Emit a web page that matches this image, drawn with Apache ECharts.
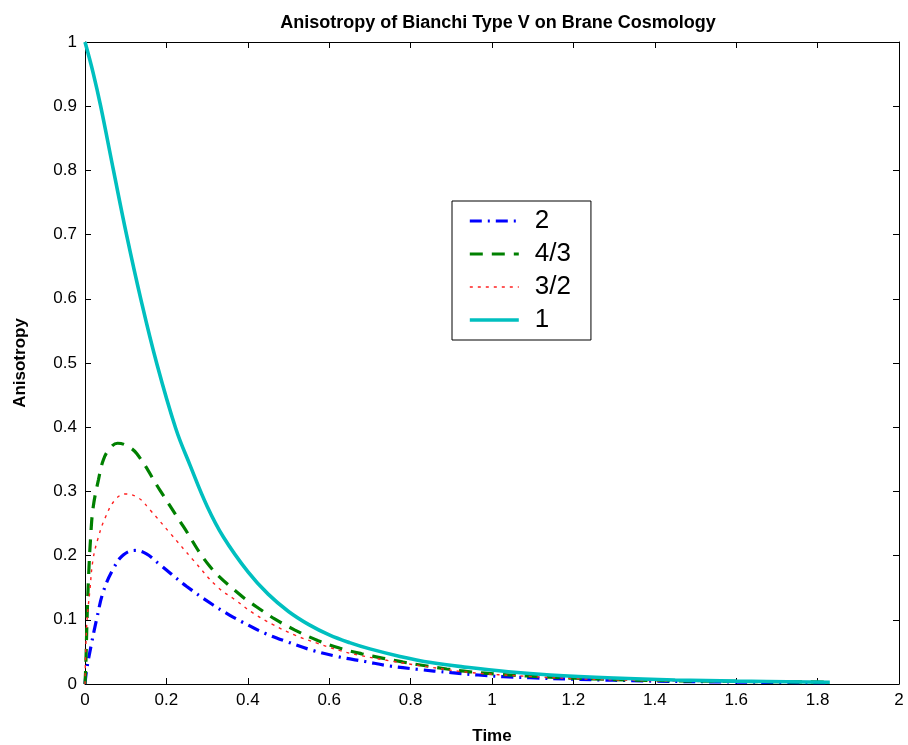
<!DOCTYPE html>
<html>
<head>
<meta charset="utf-8">
<script src="https://cdn.jsdelivr.net/npm/echarts@6/dist/echarts.min.js"></script>
<style>html,body{margin:0;padding:0;background:#fff}#c{width:908px;height:745px}</style>
</head>
<body>
<div id="c"></div>
<script>
const seriesNames = ['2', '4/3', '3/2', '1'];
const xTicks = { min: 0, max: 2, interval: 0.2 };
const yTicks = { min: 0, max: 1, interval: 0.1 };

const data2 = [[0,0],[0.004,0.022],[0.016,0.063],[0.029,0.102],[0.045,0.144],[0.07,0.18],[0.094,0.201],[0.123,0.208],[0.15,0.203],[0.184,0.186],[0.25,0.152],[0.315,0.123],[0.356,0.107],[0.385,0.097],[0.442,0.079],[0.5,0.065],[0.561,0.052],[0.622,0.0425],[0.688,0.035],[0.749,0.028],[0.815,0.023],[0.9,0.0176],[0.966,0.014],[1.028,0.0114],[1.093,0.0098],[1.2,0.0075],[1.4,0.0045],[1.6,0.003],[1.83,0.002]];
const data43 = [[0,0],[0.002,0.03],[0.005,0.1],[0.009,0.17],[0.014,0.23],[0.02,0.275],[0.033,0.318],[0.045,0.349],[0.06,0.366],[0.08,0.375],[0.1,0.372],[0.127,0.359],[0.184,0.302],[0.242,0.245],[0.307,0.183],[0.381,0.139],[0.422,0.12],[0.467,0.101],[0.516,0.084],[0.573,0.0675],[0.627,0.0556],[0.68,0.047],[0.733,0.04],[0.782,0.034],[0.84,0.028],[0.889,0.0234],[0.946,0.019],[1.02,0.015],[1.085,0.0125],[1.2,0.009],[1.4,0.0055],[1.6,0.004],[1.83,0.003]];
const data32 = [[0,0],[0.004,0.089],[0.012,0.146],[0.02,0.195],[0.033,0.229],[0.049,0.258],[0.074,0.287],[0.1,0.296],[0.131,0.29],[0.16,0.271],[0.209,0.235],[0.266,0.193],[0.324,0.152],[0.369,0.131],[0.414,0.11],[0.463,0.092],[0.516,0.076],[0.573,0.063],[0.627,0.052],[0.672,0.045],[0.75,0.036],[0.84,0.027],[0.946,0.018],[1.085,0.012],[1.2,0.0085],[1.4,0.005],[1.6,0.0035],[1.83,0.0025]];
const data1 = [[0,1.0],[0.02,0.952],[0.0385,0.9],[0.07,0.8],[0.102,0.7],[0.137,0.6],[0.176,0.5],[0.223,0.398],[0.258,0.341],[0.3,0.277],[0.34,0.229],[0.4,0.175],[0.45,0.14],[0.5,0.113],[0.55,0.0925],[0.6,0.0765],[0.65,0.0645],[0.7,0.0547],[0.774,0.043],[0.85,0.0335],[0.938,0.026],[1.04,0.019],[1.143,0.014],[1.3,0.0093],[1.45,0.0063],[1.6,0.0045],[1.83,0.0028]];

const FONT = "'Liberation Sans', Arial, Helvetica, sans-serif";
const chart = echarts.init(document.getElementById('c'), null, { renderer: 'canvas' });

const axisCommon = {
  type: 'value',
  axisLine: { show: true, onZero: false, lineStyle: { color: '#000', width: 1 } },
  axisTick: { show: true, inside: true, length: 6, lineStyle: { color: '#000' } },
  splitLine: { show: false }
};

function mkSeries(name, data, color, width, dash) {
  return {
    name: name, type: 'line', data: data, smooth: 0.4, symbol: 'none',
    xAxisIndex: 0, yAxisIndex: 0,
    lineStyle: { color: color, width: width, type: dash, cap: 'butt' },
    itemStyle: { color: color },
    emphasis: { disabled: true }, animation: false
  };
}

chart.setOption({
  animation: false,
  backgroundColor: '#fff',
  title: {
    text: 'Anisotropy of Bianchi Type V on Brane Cosmology',
    left: 493, top: 9, textAlign: 'center',
    textStyle: { fontFamily: FONT, fontSize: 18, fontWeight: 'bold', color: '#000' }
  },
  grid: { left: 85, right: 9, top: 42, bottom: 61, containLabel: false, outerBoundsMode: 'none' },
  legend: {
    data: seriesNames,
    orient: 'vertical',
    left: 452, top: 201,
    padding: [6, 20, 6, 16],
    itemWidth: 49, itemHeight: 14, itemGap: 5,
    itemStyle: { opacity: 0, borderWidth: 0 },
    lineStyle: { width: 'inherit' },
    borderColor: '#000', borderWidth: 1, backgroundColor: '#fff',
    textStyle: { fontFamily: FONT, fontSize: 26, color: '#000', lineHeight: 28, padding: [0, 0, 0, 11] },
    selectedMode: false
  },
  xAxis: [
    Object.assign({}, axisCommon, {
      min: xTicks.min, max: xTicks.max, interval: xTicks.interval, position: 'bottom',
      name: 'Time', nameLocation: 'middle', nameGap: 44,
      nameTextStyle: { fontFamily: FONT, fontSize: 17, fontWeight: 'bold', color: '#000' },
      axisLabel: { fontFamily: FONT, fontSize: 17, color: '#000', margin: 8 }
    }),
    Object.assign({}, axisCommon, {
      min: xTicks.min, max: xTicks.max, interval: xTicks.interval, position: 'top',
      axisLabel: { show: false }
    })
  ],
  yAxis: [
    Object.assign({}, axisCommon, {
      min: yTicks.min, max: yTicks.max, interval: yTicks.interval, position: 'left',
      name: 'Anisotropy', nameLocation: 'middle', nameGap: 56, nameRotate: 90,
      nameTextStyle: { fontFamily: FONT, fontSize: 17, fontWeight: 'bold', color: '#000' },
      axisLabel: { fontFamily: FONT, fontSize: 17, color: '#000', margin: 8 }
    }),
    Object.assign({}, axisCommon, {
      min: yTicks.min, max: yTicks.max, interval: yTicks.interval, position: 'right',
      axisLabel: { show: false }
    })
  ],
  series: [
    mkSeries(seriesNames[0], data2, '#0000ff', 3.2, [12, 6, 2, 6]),
    mkSeries(seriesNames[1], data43, '#008000', 3.2, [13, 9]),
    mkSeries(seriesNames[2], data32, '#ff2020', 1.4, [3, 5]),
    mkSeries(seriesNames[3], data1, '#00bfbf', 3.6, 'solid')
  ]
});
</script>
</body>
</html>
